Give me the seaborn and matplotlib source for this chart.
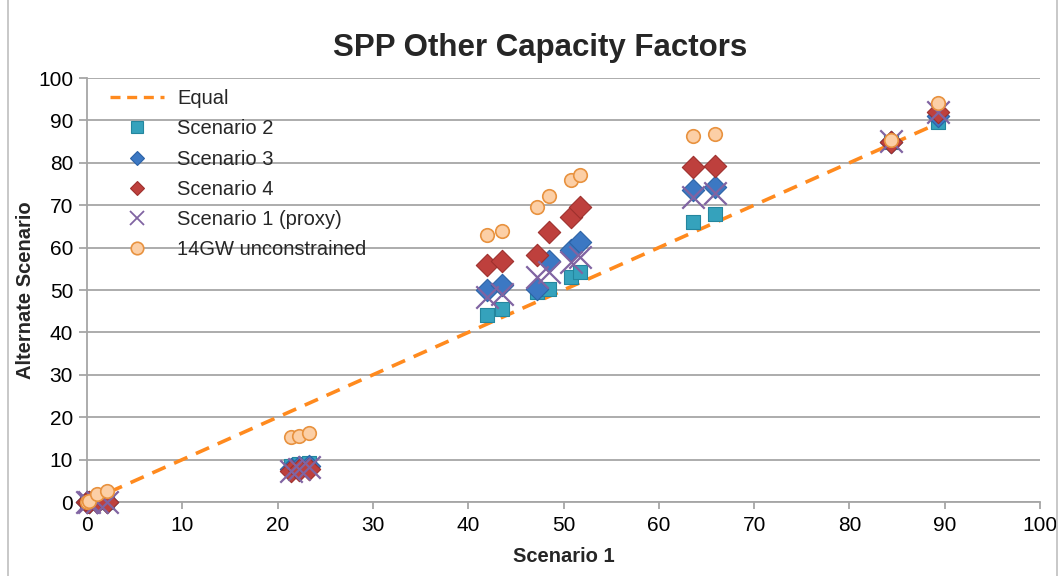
import matplotlib
matplotlib.use("Agg")
import matplotlib.pyplot as plt
from matplotlib.lines import Line2D
from matplotlib.patches import Rectangle
import seaborn as sns
import pandas as pd

# ---- data ----
scenario1 = [0.0, 0.25, 1.1, 2.1, 21.4, 22.2, 23.3, 42.0, 43.5, 47.2, 48.5,
             50.8, 51.7, 63.6, 65.9, 84.4, 89.3]
scenario2 = [0, 0, 0, 0, 8.6, 8.9, 9.1, 44.1, 45.5, 49.6, 50.2,
             53.0, 54.3, 66.0, 67.9, 84.8, 89.6]
scenario3 = [0, 0, 0, 0, 7.8, 8.2, 8.4, 50.0, 51.2, 50.2, 56.8,
             59.4, 61.3, 73.6, 74.3, 85.0, 91.0]
scenario4 = [0, 0, 0, 0, 7.2, 7.6, 7.9, 55.9, 56.8, 58.3, 63.6,
             67.2, 69.6, 79.0, 79.2, 85.0, 92.0]
scenario1_proxy = [0, 0, 0, 0, 7.4, 7.9, 8.2, 48.3, 49.0, 53.0, 54.2,
                   56.6, 57.8, 72.0, 72.9, 85.2, 92.0]
unconstrained_14gw = [0.0, 0.3, 1.9, 2.7, 15.3, 15.6, 16.3, 63.0, 64.0, 69.6, 72.2,
                      76.0, 77.1, 86.3, 86.8, 85.4, 94.1]
equal_x = [0, 89.3]
equal_y = [0, 89.3]

title = "SPP Other Capacity Factors"
xlabel = "Scenario 1"
ylabel = "Alternate Scenario"
ticks = [0, 10, 20, 30, 40, 50, 60, 70, 80, 90, 100]

df = pd.DataFrame({
    "x": scenario1, "s2": scenario2, "s3": scenario3, "s4": scenario4,
    "s1p": scenario1_proxy, "u14": unconstrained_14gw,
})
eq = pd.DataFrame({"x": equal_x, "y": equal_y})

sns.set_theme(style="white")
plt.rcParams["font.family"] = ["Liberation Sans", "DejaVu Sans"]

fig = plt.figure(figsize=(10.61, 5.76), dpi=100)
ax = fig.add_axes([87 / 1061, 1 - 502 / 576, (1040 - 87) / 1061, (502 - 78) / 576])

c_eq = "#FF8A1E"
c2, e2 = "#35A2BC", "#24869E"
c3, e3 = "#3C78C3", "#2C62A6"
c4, e4 = "#BE403D", "#9E302D"
c1p = "#8064A2"
c14, e14 = "#FCCFA6", "#E8923F"

sns.lineplot(data=eq, x="x", y="y", ax=ax, color=c_eq, lw=2.6,
             linestyle=(0, (4, 2.6)), zorder=3, legend=False)
sns.scatterplot(data=df, x="x", y="s2", ax=ax, marker="s", s=105, color=c2,
                edgecolor=e2, linewidth=0.8, zorder=4, clip_on=False, legend=False)
sns.scatterplot(data=df, x="x", y="s3", ax=ax, marker="D", s=130, color=c3,
                edgecolor=e3, linewidth=0.8, zorder=5, clip_on=False, legend=False)
sns.scatterplot(data=df, x="x", y="s4", ax=ax, marker="D", s=130, color=c4,
                edgecolor=e4, linewidth=0.8, zorder=6, clip_on=False, legend=False)
sns.scatterplot(data=df, x="x", y="s1p", ax=ax, marker="x", s=260, color=c1p,
                linewidth=1.6, zorder=7, clip_on=False, legend=False)
sns.scatterplot(data=df, x="x", y="u14", ax=ax, marker="o", s=95, color=c14,
                edgecolor=e14, linewidth=1.2, zorder=8, clip_on=False, legend=False)

ax.set_xlim(0, 100)
ax.set_ylim(0, 100)
ax.set_xticks(ticks)
ax.set_yticks(ticks)
ax.set_xticklabels([str(t) for t in ticks], fontsize=15)
ax.set_yticklabels([str(t) for t in ticks], fontsize=15)
ax.grid(axis="y", color="#A6A6A6", lw=1.3)
ax.grid(axis="x", visible=False)
ax.set_axisbelow(True)
for s in ["top", "right"]:
    ax.spines[s].set_visible(False)
for s in ["left", "bottom"]:
    ax.spines[s].set_color("#A6A6A6")
    ax.spines[s].set_linewidth(1.3)
ax.tick_params(axis="x", bottom=True, length=5, width=1.3, color="#A6A6A6",
               pad=5, labelcolor="black")
ax.tick_params(axis="y", left=True, length=6, width=1.3, color="#A6A6A6",
               pad=4, labelcolor="black")

ax.set_xlabel(xlabel, fontsize=14.5, fontweight="bold", labelpad=9)
ax.set_ylabel(ylabel, fontsize=14.5, fontweight="bold", labelpad=2)
fig.text(540 / 1061, 1 - 48 / 576, title, fontsize=22.5, fontweight="bold",
         ha="center", va="center")

handles = [
    Line2D([], [], color=c_eq, lw=2.4, linestyle=(0, (3, 2))),
    Line2D([], [], ls="none", marker="s", ms=9, mfc=c2, mec=e2, mew=0.8),
    Line2D([], [], ls="none", marker="D", ms=7.5, mfc=c3, mec=e3, mew=0.8),
    Line2D([], [], ls="none", marker="D", ms=7.5, mfc=c4, mec=e4, mew=0.8),
    Line2D([], [], ls="none", marker="x", ms=9.5, color=c1p, mew=1.3),
    Line2D([], [], ls="none", marker="o", ms=9, mfc=c14, mec=e14, mew=1.2),
]
labels = ["Equal", "Scenario 2", "Scenario 3", "Scenario 4",
          "Scenario 1 (proxy)", "14GW unconstrained"]
leg = ax.legend(handles, labels, loc="upper left", bbox_to_anchor=(0.012, 1.0),
                frameon=False, fontsize=14.5, handlelength=2.7, handletextpad=0.65,
                labelspacing=0.56, borderaxespad=0.15)

fig.patches.append(Rectangle((8 / 1061, -0.05), (1057 - 8) / 1061, 1.1,
                             transform=fig.transFigure, fill=False,
                             edgecolor="#BFBFBF", lw=1.2))

fig.savefig("out.png", dpi=100)
